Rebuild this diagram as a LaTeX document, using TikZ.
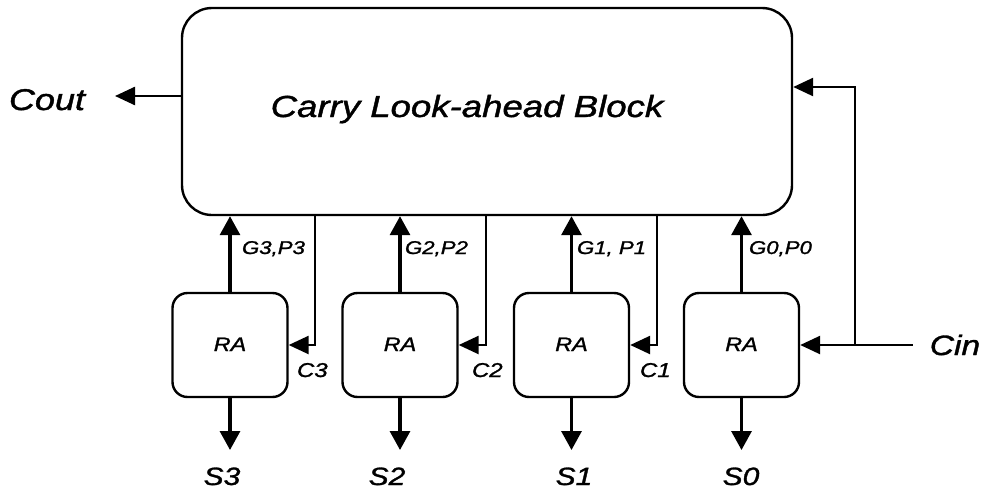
\documentclass[tikz,border=0pt]{standalone}
\usepackage{fontspec}
\setmainfont[ItalicFeatures={FakeBold=1.2}]{Liberation Sans}
\usetikzlibrary{arrows.meta}
\newcommand\wid[1]{\scalebox{1.2}[1]{\itshape #1}}
\tikzset{
  blockbox/.style={draw, line width=2.4pt, rounded corners=30pt, minimum width=610pt, minimum height=207pt, inner sep=0pt},
  rabox/.style={draw, line width=2.4pt, rounded corners=15pt, minimum width=115pt, minimum height=104pt, inner sep=0pt},
  txt/.style={inner sep=0pt, outer sep=0pt},
  thick arr/.style={line width=3.2pt, -{Triangle[length=19pt,width=20pt]}},
  thin arr/.style={line width=2.5pt, -{Triangle[length=20pt,width=18pt]}},
  thin line/.style={line width=2.5pt}
}
\begin{document}
\begin{tikzpicture}[x=1pt,y=-1pt]
\useasboundingbox (0,0) rectangle (983,493);
% main block
\node[blockbox] (blk) at (487,111.5) {};
\node[txt, anchor=base, font=\fontsize{30.5}{32}\selectfont] (title) at (467,117) {\wid{Carry Look-ahead Block}};
% RA boxes
\node[rabox] (ra3) at (230,345) {};
\node[rabox] (ra2) at (400,345) {};
\node[rabox] (ra1) at (571.5,345) {};
\node[rabox] (ra0) at (741.5,345) {};
\foreach \n in {3,2,1,0}{
  \node[txt, anchor=base, font=\fontsize{19.5}{21}\selectfont] (ralbl\n) at ([yshift=-6pt]ra\n.center) {\wid{RA}};
}
% Cout
\node[txt, anchor=base, font=\fontsize{30}{32}\selectfont] (cout) at (47,110) {\wid{Cout}};
\coordinate (coutend) at (115,96);
\draw[thin arr] (coutend -| blk.west) -- (coutend);
% Cin
\node[txt, anchor=base, font=\fontsize{28}{30}\selectfont] (cin) at (955,355) {\wid{Cin}};
\coordinate (cj) at (855,345);
\coordinate (cintop) at (855,87);
\draw[thin arr] ([xshift=-17pt]cin.west |- ra0.east) -- (ra0.east);
\draw[thin arr] (cj) -- (cintop) -- (cintop -| blk.east);
% G,P arrows
\foreach \n in {3,2,1,0}{
  \draw[thick arr] (ra\n.north) -- (ra\n.north |- blk.south);
}
\node[txt, anchor=base west, font=\fontsize{18.5}{20}\selectfont] (gp3) at (242,254) {\wid{G3,P3}};
\node[txt, anchor=base west, font=\fontsize{18.5}{20}\selectfont] (gp2) at (405,254) {\wid{G2,P2}};
\node[txt, anchor=base west, font=\fontsize{18.5}{20}\selectfont] (gp1) at (577,254) {\wid{G1, P1}};
\node[txt, anchor=base west, font=\fontsize{18.5}{20}\selectfont] (gp0) at (749,254) {\wid{G0,P0}};
% carry lines
\coordinate (c3) at (315,345);
\coordinate (c2) at (486,345);
\coordinate (c1) at (657,345);
\draw[thin arr] (c3 |- blk.south) -- (c3) -- (ra3.east);
\draw[thin arr] (c2 |- blk.south) -- (c2) -- (ra2.east);
\draw[thin arr] (c1 |- blk.south) -- (c1) -- (ra1.east);
\node[txt, anchor=base west, font=\fontsize{20}{22}\selectfont] (c3l) at (297,377) {\wid{C3}};
\node[txt, anchor=base west, font=\fontsize{20}{22}\selectfont] (c2l) at (472,377) {\wid{C2}};
\node[txt, anchor=base west, font=\fontsize{20}{22}\selectfont] (c1l) at (640,377) {\wid{C1}};
% sum outputs
\coordinate (send) at (0,450);
\foreach \n in {3,2,1,0}{
  \draw[thick arr] (ra\n.south) -- (ra\n.south |- send);
}
\node[txt, anchor=base, font=\fontsize{25}{27}\selectfont] (s3) at (222,485) {\wid{S3}};
\node[txt, anchor=base, font=\fontsize{25}{27}\selectfont] (s2) at (387,485) {\wid{S2}};
\node[txt, anchor=base, font=\fontsize{25}{27}\selectfont] (s1) at (574,485) {\wid{S1}};
\node[txt, anchor=base, font=\fontsize{25}{27}\selectfont] (s0) at (741,485) {\wid{S0}};
\end{tikzpicture}
\end{document}
